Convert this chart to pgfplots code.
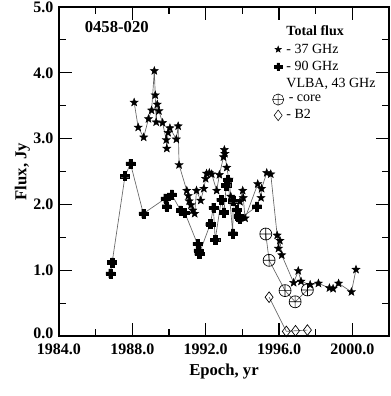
\documentclass[border=0pt]{standalone}
\usepackage{fontspec}
\setmainfont{Liberation Serif}
\usepackage{pgfplots}
\pgfplotsset{compat=1.18}
\usetikzlibrary{plotmarks}

% filled five-point star
\pgfdeclareplotmark{fstar}{%
  \pgfpathmoveto{\pgfpointpolar{90}{\pgfplotmarksize}}%
  \pgfpathlineto{\pgfpointpolar{126}{0.42\pgfplotmarksize}}%
  \pgfpathlineto{\pgfpointpolar{162}{\pgfplotmarksize}}%
  \pgfpathlineto{\pgfpointpolar{198}{0.42\pgfplotmarksize}}%
  \pgfpathlineto{\pgfpointpolar{234}{\pgfplotmarksize}}%
  \pgfpathlineto{\pgfpointpolar{270}{0.42\pgfplotmarksize}}%
  \pgfpathlineto{\pgfpointpolar{306}{\pgfplotmarksize}}%
  \pgfpathlineto{\pgfpointpolar{342}{0.42\pgfplotmarksize}}%
  \pgfpathlineto{\pgfpointpolar{18}{\pgfplotmarksize}}%
  \pgfpathlineto{\pgfpointpolar{54}{0.42\pgfplotmarksize}}%
  \pgfpathclose
  \pgfusepathqfillstroke}
% filled bold cross
\pgfdeclareplotmark{fcross}{%
  \pgfpathmoveto{\pgfqpoint{-0.36\pgfplotmarksize}{\pgfplotmarksize}}%
  \pgfpathlineto{\pgfqpoint{0.36\pgfplotmarksize}{\pgfplotmarksize}}%
  \pgfpathlineto{\pgfqpoint{0.36\pgfplotmarksize}{0.36\pgfplotmarksize}}%
  \pgfpathlineto{\pgfqpoint{\pgfplotmarksize}{0.36\pgfplotmarksize}}%
  \pgfpathlineto{\pgfqpoint{\pgfplotmarksize}{-0.36\pgfplotmarksize}}%
  \pgfpathlineto{\pgfqpoint{0.36\pgfplotmarksize}{-0.36\pgfplotmarksize}}%
  \pgfpathlineto{\pgfqpoint{0.36\pgfplotmarksize}{-\pgfplotmarksize}}%
  \pgfpathlineto{\pgfqpoint{-0.36\pgfplotmarksize}{-\pgfplotmarksize}}%
  \pgfpathlineto{\pgfqpoint{-0.36\pgfplotmarksize}{-0.36\pgfplotmarksize}}%
  \pgfpathlineto{\pgfqpoint{-\pgfplotmarksize}{-0.36\pgfplotmarksize}}%
  \pgfpathlineto{\pgfqpoint{-\pgfplotmarksize}{0.36\pgfplotmarksize}}%
  \pgfpathlineto{\pgfqpoint{-0.36\pgfplotmarksize}{0.36\pgfplotmarksize}}%
  \pgfpathclose
  \pgfusepathqfillstroke}

\begin{document}
\begin{tikzpicture}
\begin{axis}[
    name=ax,
    scale only axis,
    width=247.5pt, height=246.75pt,
    xmin=1984, xmax=2002,
    ymin=0, ymax=5,
    xtick={1984,1988,1992,1996,2000},
    minor x tick num=1,
    ytick={1,2,3,4,5},
    minor ytick={0.5,1.5,2.5,3.5,4.5},
    extra y ticks={0},
    extra y tick style={yticklabel style={yshift=2pt}},
    scaled x ticks=false,
    tick align=inside,
    major tick length=9.75pt,
    minor tick length=5.25pt,
    axis line style={line width=0.8pt},
    every tick/.style={black, line width=0.8pt},
    /pgf/number format/assume math mode=true,
    xticklabel style={/pgf/number format/fixed, /pgf/number format/fixed zerofill,
        /pgf/number format/precision=1, /pgf/number format/1000 sep={},
        inner sep=0pt, yshift=-6pt},
    yticklabel style={/pgf/number format/fixed, /pgf/number format/fixed zerofill,
        /pgf/number format/precision=1, inner sep=0pt, xshift=-4pt},
    tick label style={font=\fontsize{12}{13}\selectfont\bfseries},
    xlabel={Epoch, yr},
    ylabel={Flux, Jy},
    xlabel style={yshift=-3pt},
    ylabel style={yshift=-1pt},
    label style={font=\fontsize{12.5}{14}\selectfont\bfseries},
    legend style={draw=none, fill=none, at={(rel axis cs:0.972,0.955)},
        anchor=north east, font=\fontsize{10.5}{12}\selectfont,
        row sep=0.4pt, inner sep=1pt},
    legend cell align=left,
]

% 37 GHz total flux
\addplot[forget plot, black!60, line width=0.5pt, mark=fstar, mark size=3.2pt,
    mark options={black, fill=black, line width=0.3pt}] coordinates {
 (1988.10,3.55) (1988.32,3.17) (1988.62,3.02) (1988.88,3.30) (1989.05,3.43)
 (1989.20,4.03) (1989.25,3.66) (1989.30,3.25) (1989.36,3.52) (1989.45,3.42)
 (1989.65,3.24) (1989.85,2.98) (1989.88,2.85) (1989.95,3.09) (1990.05,3.16)
 (1990.40,2.99) (1990.50,3.19) (1990.55,2.60) (1990.97,2.21) (1991.05,2.13)
 (1991.10,2.05) (1991.20,1.99) (1991.30,1.91) (1991.40,1.86) (1991.50,2.21)
 (1991.73,2.06) (1991.90,2.24) (1992.00,2.39) (1992.05,2.47) (1992.20,2.48)
 (1992.33,2.46) (1992.60,2.21) (1992.75,2.45) (1992.97,2.72) (1993.02,2.83)
 (1993.05,2.77) (1993.15,2.56) (1993.27,2.38) (1993.37,2.12) (1993.87,2.04)
 (1994.02,2.21) (1994.05,2.10) (1994.15,1.79) (1994.84,2.31) (1995.02,2.10)
 (1995.05,2.24) (1995.33,2.48) (1995.55,2.46) (1995.90,1.53) (1995.97,1.33)
 (1996.05,1.45) (1996.15,1.23) (1996.80,0.81) (1997.05,0.99) (1997.20,0.83)
 (1997.70,0.78) (1998.15,0.80) (1998.75,0.73) (1998.95,0.72) (1999.25,0.80)
 (1999.95,0.67) (2000.20,1.01)
};

% 90 GHz total flux
\addplot[forget plot, black!60, line width=0.5pt, mark=fcross, mark size=3.4pt,
    mark options={black, fill=black, line width=0.3pt}] coordinates {
 (1986.80,0.95) (1986.90,1.12) (1987.60,2.43) (1987.90,2.62) (1988.60,1.86)
 (1989.80,2.09) (1989.87,1.97) (1990.15,2.15) (1990.63,1.91) (1990.87,1.87)
 (1991.55,1.40) (1991.60,1.30) (1991.65,1.25) (1992.25,1.70) (1992.42,1.95)
 (1992.52,1.46) (1992.85,2.07) (1993.00,1.88) (1993.12,2.29) (1993.22,2.37)
 (1993.48,1.56) (1993.50,2.05) (1993.68,1.92) (1993.78,1.82) (1993.85,1.78)
 (1994.80,1.97)
};

% VLBA 43 GHz core
\addplot[forget plot, black!60, line width=0.5pt, mark=oplus, mark size=4.5pt,
    mark options={black, fill=white, line width=0.5pt}] coordinates {
 (1995.28,1.55) (1995.46,1.15) (1996.33,0.69) (1996.88,0.52) (1997.55,0.70)
};

% VLBA 43 GHz B2
\addplot[forget plot, black!60, line width=0.5pt, mark=diamond, mark size=4pt,
    mark options={black, fill=white, line width=0.5pt}] coordinates {
 (1995.46,0.59) (1996.40,0.07) (1996.90,0.08) (1997.55,0.09)
};

\addlegendimage{empty legend}
\addlegendentry{\textbf{Total flux}}
\addlegendimage{only marks, mark=fstar, mark size=2.4pt, black, mark options={fill=black}}
\addlegendentry{- 37 GHz}
\addlegendimage{only marks, mark=fcross, mark size=2.8pt, black, mark options={fill=black}}
\addlegendentry{- 90 GHz}
\addlegendimage{empty legend}
\addlegendentry{VLBA, 43 GHz}
\addlegendimage{only marks, mark=oplus, mark size=4.2pt, black, mark options={fill=white}}
\addlegendentry{\,- core}
\addlegendimage{only marks, mark=diamond, mark size=4pt, black, mark options={fill=white}}
\addlegendentry{- B2}

\node[font=\fontsize{12.5}{14}\selectfont\bfseries] at (axis cs:1987.15,4.70) {0458-020};
\end{axis}
\pgfresetboundingbox
\path[use as bounding box] ([shift={(-44.25pt,-45pt)}]ax.south west)
    rectangle ([shift={(0.75pt,5.25pt)}]ax.north east);
\end{tikzpicture}
\end{document}
